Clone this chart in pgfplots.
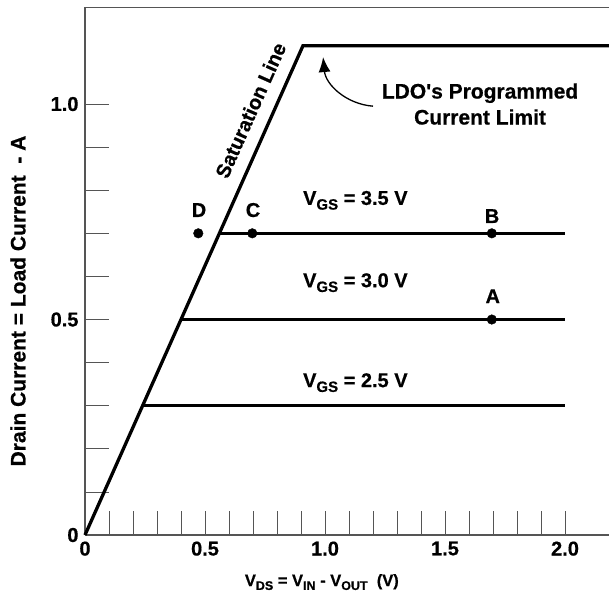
\documentclass[border=0pt]{standalone}
\usepackage{pgfplots}
\pgfplotsset{compat=1.18}
\usepackage{fontspec}
\setmainfont[BoldFeatures={FakeBold=0.6}]{Liberation Sans}
\usetikzlibrary{arrows.meta}
\newcommand\F{\fontsize{20}{26}\selectfont\bfseries}
\newcommand\FL{\fontsize{21}{26}\selectfont\bfseries}
\newcommand\FX{\fontsize{16.5}{20}\selectfont\bfseries}
\newcommand\sub[1]{\raisebox{-0.45ex}{\fontsize{15}{15}\selectfont\bfseries #1}}
\newcommand\subx[1]{\raisebox{-0.45ex}{\fontsize{12.5}{12.5}\selectfont\bfseries #1}}
\definecolor{axgray}{RGB}{85,85,85}
\begin{document}
\begin{tikzpicture}
\begin{axis}[
  at={(0,0)}, anchor=south west,
  scale only axis, width=524pt, height=527.5pt,
  xmin=0, xmax=2.1833, ymin=0, ymax=1.224,
  axis x line*=bottom, axis y line*=left,
  axis line style={axgray, line width=1.1pt},
  xtick={0,0.5,1.0,1.5,2.0},
  xticklabels={0,0.5,1.0,1.5,2.0},
  minor xtick={0.1,0.2,0.3,0.4,0.6,0.7,0.8,0.9,1.1,1.2,1.3,1.4,1.6,1.7,1.8,1.9},
  ytick={0,0.5,1.0},
  yticklabels={0,0.5,1.0},
  minor ytick={0.1,0.2,0.3,0.4,0.6,0.7,0.8,0.9},
  tick align=inside,
  major tick length=24pt, minor tick length=24pt,
  every tick/.style={axgray, line width=0.8pt},
  minor tick style={axgray, line width=0.8pt},
  major tick style={axgray, line width=0.8pt},
  tick label style={font=\F},
  xticklabel style={yshift=-3pt},
  yticklabel style={xshift=-3pt},
  clip=false,
]
\draw[axgray, line width=1.1pt] (rel axis cs:0,1) -- (rel axis cs:1,1);
% saturation line and current limit
\addplot[black, line width=3.3pt, line join=miter] coordinates {(0,0) (0.908,1.135) (2.1833,1.135)};
% VGS lines
\addplot[black, line width=3.3pt] coordinates {(0.24,0.3) (2.0,0.3)};
\addplot[black, line width=3.3pt] coordinates {(0.40,0.5) (2.0,0.5)};
\addplot[black, line width=3.3pt] coordinates {(0.56,0.7) (2.0,0.7)};
% operating points
\addplot[only marks, mark=*, mark size=4.8pt, black] coordinates {(0.472,0.7) (0.697,0.7) (1.695,0.7) (1.695,0.5)};
% labels
\node[font=\F, anchor=base] at (axis cs:0.475,0.738) {D};
\node[font=\F, anchor=base] at (axis cs:0.70,0.738) {C};
\node[font=\F, anchor=base] at (axis cs:1.696,0.724) {B};
\node[font=\F, anchor=base] at (axis cs:1.699,0.538) {A};
\node[font=\F, anchor=base west, inner sep=0pt] at (axis cs:0.908,0.766) {V\sub{GS} = 3.5 V};
\node[font=\F, anchor=base west, inner sep=0pt] at (axis cs:0.908,0.575) {V\sub{GS} = 3.0 V};
\node[font=\F, anchor=base west, inner sep=0pt] at (axis cs:0.908,0.343) {V\sub{GS} = 2.5 V};
\node[font=\F, anchor=south, rotate=66, inner sep=14pt] at (axis cs:0.772,0.965) {Saturation Line};
\node[font=\FL, align=center, anchor=center] at (axis cs:1.646,1.0) {LDO\textquotesingle s Programmed\\Current Limit};
\draw[-{Latex[length=15pt,width=12pt]}, line width=1.3pt] (axis cs:1.2,0.995) to[bend left=40] (axis cs:0.992,1.109);
\node[font=\FX, anchor=base] at (rel axis cs:0.452,-0.0967) {V\subx{DS} = V\subx{IN} - V\subx{OUT}\ \ (V)};
\node[font=\FL, rotate=90, anchor=center] at (rel axis cs:-0.1279,0.4436) {Drain Current = Load Current\ \ - A};
\end{axis}
\pgfresetboundingbox
\path (-85pt,-64pt) rectangle (524pt,535pt);
\end{tikzpicture}
\end{document}
